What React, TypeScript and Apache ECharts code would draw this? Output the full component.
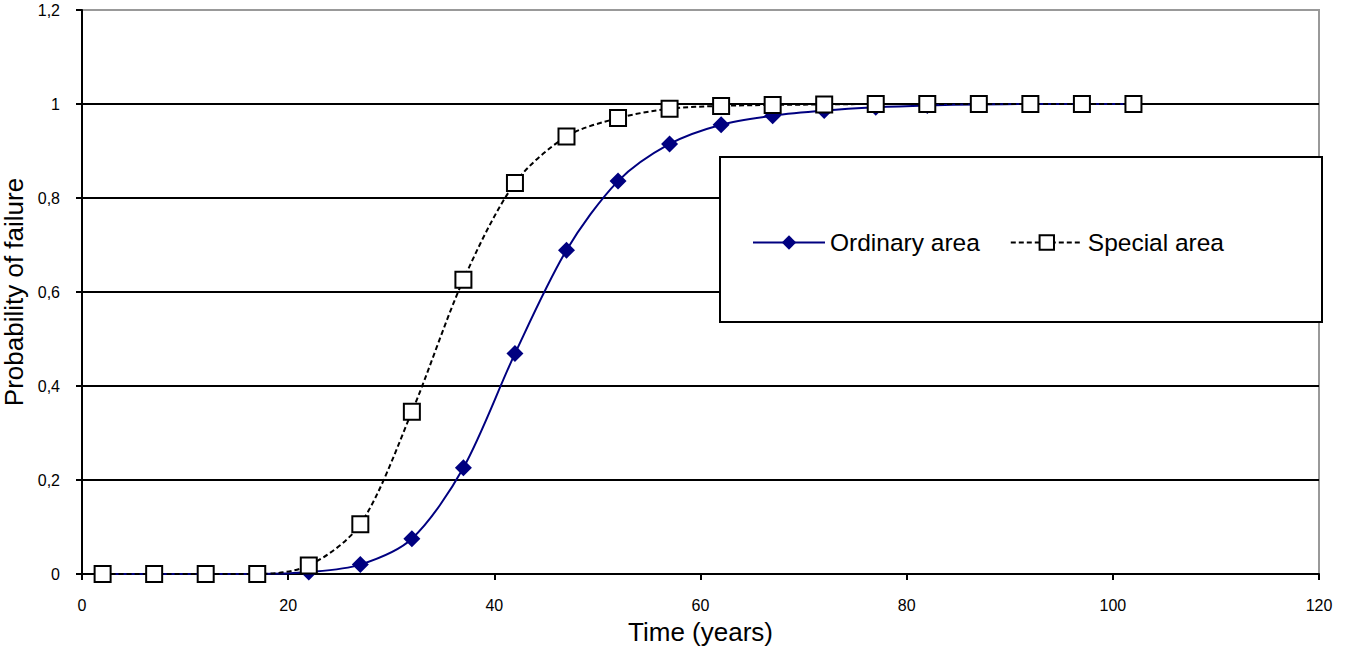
import React, { useEffect, useRef } from "react";
import * as echarts from "echarts";

const timeYears = [2, 7, 12, 17, 22, 27, 32, 37, 42, 47, 52, 57, 62, 67, 72, 77, 82, 87, 92, 97, 102];
const ordinaryArea = [0, 0, 0, 0, 0.004, 0.02, 0.075, 0.226, 0.469, 0.689, 0.836, 0.915, 0.956, 0.975, 0.986, 0.993, 0.997, 0.999, 1, 1, 1];
const specialArea = [0, 0, 0, 0, 0.018, 0.106, 0.345, 0.626, 0.832, 0.931, 0.97, 0.99, 0.996, 0.998, 0.999, 1, 1, 1, 1, 1, 1];
const seriesNames = ["Ordinary area", "Special area"];
const xAxisTitle = "Time (years)";
const yAxisTitle = "Probability of failure";

const FONT = "'Liberation Sans', Arial, sans-serif";

export default function App() {
  const ref = useRef<HTMLDivElement>(null);
  useEffect(() => {
    if (!ref.current) return;
    const chart = echarts.init(ref.current, null, { renderer: "svg" });
    const pairs = (ys: number[]) => timeYears.map((x, i) => [x, ys[i]]);
    chart.setOption({
      animation: false,
      backgroundColor: "#ffffff",
      textStyle: { fontFamily: FONT },
      grid: {
        left: 82,
        top: 10,
        right: 26,
        bottom: 76,
        containLabel: false,
        outerBoundsMode: "none",
        show: true,
        borderColor: "#999999",
        borderWidth: 2,
        backgroundColor: "transparent",
      },
      xAxis: {
        type: "value",
        min: 0,
        max: 120,
        interval: 20,
        name: xAxisTitle,
        nameLocation: "middle",
        nameGap: 45,
        nameTextStyle: { fontSize: 26, color: "#000", fontFamily: FONT },
        axisLine: { show: true, lineStyle: { color: "#000", width: 2 } },
        axisTick: { show: true, inside: false, length: 6, lineStyle: { color: "#000", width: 2 } },
        axisLabel: { fontSize: 16, color: "#000", margin: 23, fontFamily: FONT },
        splitLine: { show: false },
      },
      yAxis: {
        type: "value",
        min: 0,
        max: 1.2,
        interval: 0.2,
        name: yAxisTitle,
        nameLocation: "middle",
        nameRotate: 90,
        nameGap: 52,
        nameTextStyle: { fontSize: 26, color: "#000", fontFamily: FONT },
        axisLine: { show: true, lineStyle: { color: "#000", width: 2 } },
        axisTick: { show: true, inside: false, length: 6, lineStyle: { color: "#000", width: 2 } },
        axisLabel: {
          fontSize: 16,
          color: "#000",
          margin: 22,
          fontFamily: FONT,
          formatter: (v: number) => String(parseFloat(v.toFixed(1))).replace(".", ","),
        },
        splitLine: {
          show: true,
          lineStyle: {
            color: ["#000", "#000", "#000", "#000", "#000", "#000", "#999999"],
            width: 2,
          },
        },
      },
      legend: {
        show: true,
        z: 20,
        left: 747,
        top: 225,
        orient: "horizontal",
        itemWidth: 72,
        itemHeight: 18,
        itemGap: 30,
        textStyle: { fontSize: 24.5, color: "#000", fontFamily: FONT },
        data: seriesNames,
      },
      graphic: [
        {
          type: "rect",
          z: 5,
          shape: { x: 720, y: 157, width: 602, height: 165 },
          style: { fill: "#ffffff", stroke: "#000000", lineWidth: 2 },
        },
      ],
      series: [
        {
          name: seriesNames[0],
          type: "line",
          data: pairs(ordinaryArea),
          smooth: 0.3,
          symbol: "diamond",
          symbolSize: 17,
          showSymbol: true,
          lineStyle: { color: "#000080", width: 2 },
          itemStyle: { color: "#000080", borderColor: "#000080", borderWidth: 0 },
          z: 2,
        },
        {
          name: seriesNames[1],
          type: "line",
          data: pairs(specialArea),
          smooth: 0.3,
          symbol: "rect",
          symbolSize: 16,
          showSymbol: true,
          lineStyle: { color: "#000000", width: 2, type: [5, 3] },
          itemStyle: { color: "#ffffff", borderColor: "#000000", borderWidth: 2 },
          z: 3,
        },
      ],
    });
    return () => chart.dispose();
  }, []);
  return (
    <div
      ref={ref}
      style={{ position: "fixed", left: 0, top: 0, width: 1345, height: 650, background: "#fff" }}
    />
  );
}
